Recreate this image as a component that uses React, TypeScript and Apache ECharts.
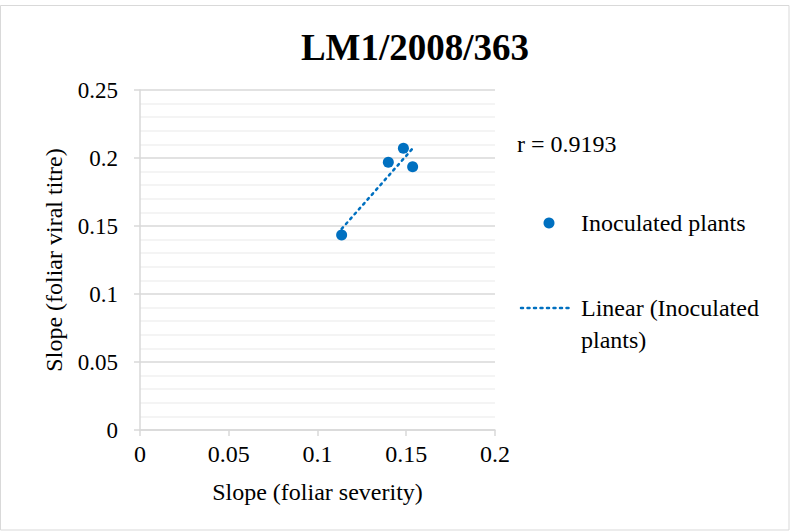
import React, { useEffect, useRef } from "react";
import * as echarts from "echarts";

// Inoculated plants: slope of foliar severity vs slope of foliar viral titre
const severitySlope = [0.1136, 0.1399, 0.1484, 0.1536];
const titreSlope = [0.1434, 0.1968, 0.2071, 0.1936];

const xTicks = [0, 0.05, 0.1, 0.15, 0.2];
const yTicks = [0, 0.05, 0.1, 0.15, 0.2, 0.25];

const titleText = "LM1/2008/363";
const rText = "r = 0.9193";
const seriesName = "Inoculated plants";
const trendName = "Linear (Inoculated plants)";

const BLUE = "#0070C0";
const FONT = "'Liberation Serif', 'Times New Roman', serif";

// least-squares fit through the scatter points, drawn over their x range
function linearTrend(xs: number[], ys: number[]): number[][] {
  const n = xs.length;
  const mx = xs.reduce((a, b) => a + b, 0) / n;
  const my = ys.reduce((a, b) => a + b, 0) / n;
  let sxy = 0;
  let sxx = 0;
  for (let i = 0; i < n; i++) {
    sxy += (xs[i] - mx) * (ys[i] - my);
    sxx += (xs[i] - mx) * (xs[i] - mx);
  }
  const b = sxy / sxx;
  const a = my - b * mx;
  const x0 = Math.min(...xs);
  const x1 = Math.max(...xs);
  return [
    [x0, a + b * x0],
    [x1, a + b * x1],
  ];
}

export default function App() {
  const ref = useRef<HTMLDivElement>(null);

  useEffect(() => {
    if (!ref.current) return;
    const chart = echarts.init(ref.current, null, { renderer: "svg" });
    const points = severitySlope.map((x, i) => [x, titreSlope[i]]);
    const trend = linearTrend(severitySlope, titreSlope);
    const fmt = (v: number) => String(parseFloat(v.toFixed(3)));

    chart.setOption({
      animation: false,
      backgroundColor: "#ffffff",
      textStyle: { fontFamily: FONT },
      title: {
        text: titleText,
        left: 410,
        top: 24,
        textAlign: "center",
        textStyle: { fontFamily: FONT, fontSize: 37, fontWeight: "bold", color: "#000" },
      },
      grid: { left: 140, right: 295, top: 90, bottom: 101, containLabel: false },
      xAxis: {
        type: "value",
        min: xTicks[0],
        max: xTicks[xTicks.length - 1],
        interval: 0.05,
        name: "Slope (foliar severity)",
        nameLocation: "middle",
        nameGap: 50,
        nameTextStyle: { fontFamily: FONT, fontSize: 24, color: "#000" },
        axisLine: { show: true, lineStyle: { color: "#d9d9d9", width: 1.5 } },
        axisTick: { show: true, length: 6, lineStyle: { color: "#d9d9d9", width: 1.5 } },
        axisLabel: { fontFamily: FONT, fontSize: 24, color: "#000", margin: 12, formatter: fmt },
        splitLine: { show: false },
      },
      yAxis: {
        type: "value",
        min: yTicks[0],
        max: yTicks[yTicks.length - 1],
        interval: 0.05,
        name: "Slope (foliar viral titre)",
        nameLocation: "middle",
        nameGap: 74,
        nameTextStyle: { fontFamily: FONT, fontSize: 24, color: "#000" },
        axisLine: { show: true, lineStyle: { color: "#d9d9d9", width: 1.5 } },
        axisTick: { show: true, length: 6, lineStyle: { color: "#d9d9d9", width: 1.5 } },
        axisLabel: { fontFamily: FONT, fontSize: 23, color: "#000", margin: 22, formatter: fmt },
        splitLine: { show: true, lineStyle: { color: "#d9d9d9", width: 1.5 } },
        minorTick: { show: false, splitNumber: 5 },
        minorSplitLine: { show: true, lineStyle: { color: "#f0f0f0", width: 1.5 } },
      },
      series: [
        {
          name: trendName,
          type: "line",
          data: trend,
          symbol: "none",
          lineStyle: { color: BLUE, width: 2.5, type: [2, 4.5], cap: "round" },
          z: 2,
        },
        {
          name: seriesName,
          type: "scatter",
          data: points,
          symbol: "circle",
          symbolSize: 11,
          itemStyle: { color: BLUE, opacity: 1 },
          z: 3,
        },
      ],
      graphic: [
        {
          type: "rect",
          shape: { x: 0.5, y: 5.5, width: 788.5, height: 524.5 },
          style: { fill: "none", stroke: "#d9d9d9", lineWidth: 1 },
          silent: true,
        },
        {
          type: "text",
          left: 517,
          top: 132,
          style: { text: rText, fontFamily: FONT, fontSize: 24, fill: "#000" },
        },
        {
          type: "circle",
          shape: { cx: 549, cy: 223, r: 5.5 },
          style: { fill: BLUE },
        },
        {
          type: "text",
          left: 581,
          top: 211,
          style: { text: seriesName, fontFamily: FONT, fontSize: 24, fill: "#000" },
        },
        {
          type: "line",
          shape: { x1: 521, y1: 308, x2: 570, y2: 308 },
          style: { stroke: BLUE, lineWidth: 2.5, lineDash: [2, 4.5], lineCap: "round" },
        },
        {
          type: "text",
          left: 581,
          top: 292,
          style: {
            text: "Linear (Inoculated\nplants)",
            fontFamily: FONT,
            fontSize: 24,
            lineHeight: 32,
            fill: "#000",
          },
        },
      ],
    });

    return () => chart.dispose();
  }, []);

  return (
    <div
      ref={ref}
      style={{ position: "absolute", left: 0, top: 0, width: 790, height: 531 }}
    />
  );
}
